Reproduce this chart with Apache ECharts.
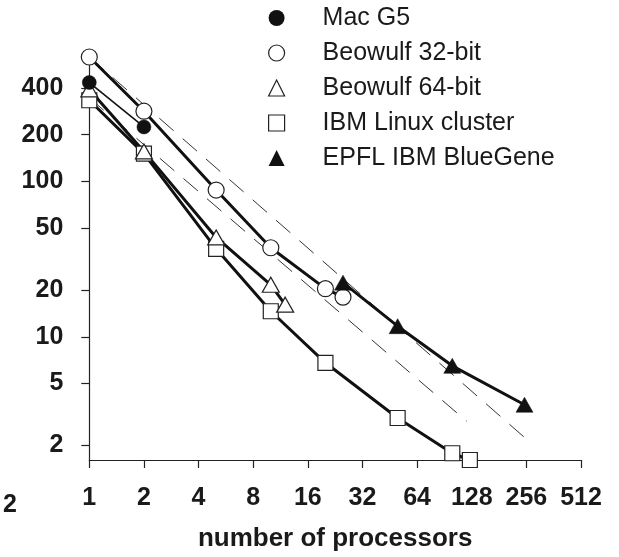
<!DOCTYPE html>
<html>
<head>
<meta charset="utf-8">
<script src="https://cdn.jsdelivr.net/npm/echarts@6/dist/echarts.min.js"></script>
<style>
  html, body { margin: 0; padding: 0; background: #fff; }
  #chart { width: 619px; height: 557px; }
</style>
</head>
<body>
<div id="chart"></div>
<script>
// ---- data ----
const seriesNames = ['Mac G5', 'Beowulf 32-bit', 'Beowulf 64-bit', 'IBM Linux cluster', 'EPFL IBM BlueGene'];

const macProcs = [1, 2];
const macTimes = [433, 224];

const b32Procs = [1, 2, 5, 10, 20, 25];
const b32Times = [632, 283, 88, 37.4, 20.4, 18.0];

const b64Procs = [1, 2, 5, 10, 12];
const b64Times = [391, 156, 43.6, 21.6, 16.1];

const ibmProcs = [1, 2, 5, 10, 20, 50, 100, 125];
const ibmTimes = [333, 151, 36.8, 14.6, 6.8, 3.0, 1.78, 1.61];

const bgProcs = [25, 50, 100, 250];
const bgTimes = [22.3, 11.7, 6.5, 3.65];

// ideal-scaling reference lines (dashed)
const idealUpperProcs = [1, 250];
const idealUpperTimes = [632, 2.25];
const idealLowerProcs = [1, 120];
const idealLowerTimes = [345, 2.86];

const xTickLabels = [1, 2, 4, 8, 16, 32, 64, 128, 256, 512];
const yTickLabels = [2, 5, 10, 20, 50, 100, 200, 400];
const yRange = [1.61, 632];

// ---- helpers: log-log transform through value axes ----
const pts = (xs, ys) => xs.map((x, i) => [Math.log2(x), Math.log10(ys[i])]);

const FONT = "'Liberation Sans', Arial, Helvetica, sans-serif";
const INK = '#1a1a1a';

const openStyle = { color: '#ffffff', borderColor: '#222', borderWidth: 1.2 };
const fillStyle = { color: '#111', borderColor: '#111', borderWidth: 0.5 };

function lineSeries(name, data, symbol, size, itemStyle, width) {
  return {
    name, type: 'line', data, symbol, symbolSize: size,
    showAllSymbol: true, z: 5,
    lineStyle: { color: '#111', width: width },
    itemStyle: itemStyle,
    emphasis: { disabled: true },
    animation: false
  };
}

const chart = echarts.init(document.getElementById('chart'), null, { renderer: 'canvas' });

chart.setOption({
  backgroundColor: '#fff',
  animation: false,
  textStyle: { fontFamily: FONT },
  grid: { left: 89.3, right: 38, top: 57, bottom: 91, containLabel: false },
  legend: {
    orient: 'vertical',
    left: 268, top: 5.5,
    padding: 0,
    itemGap: 10,
    itemWidth: 16, itemHeight: 16,
    symbolKeepAspect: true,
    selectedMode: false,
    textStyle: { fontFamily: FONT, fontSize: 25, color: INK, lineHeight: 25, padding: [0, 0, 0, 33] },
    data: [
      { name: seriesNames[0], icon: 'circle', itemStyle: { color: '#111', borderColor: '#111', borderWidth: 0 } },
      { name: seriesNames[1], icon: 'circle', itemStyle: { color: '#fff', borderColor: '#222', borderWidth: 1.2 } },
      { name: seriesNames[2], icon: 'triangle', itemStyle: { color: '#fff', borderColor: '#222', borderWidth: 1.2 } },
      { name: seriesNames[3], icon: 'rect', itemStyle: { color: '#fff', borderColor: '#222', borderWidth: 1.2 } },
      { name: seriesNames[4], icon: 'triangle', itemStyle: { color: '#111', borderColor: '#111', borderWidth: 0 } }
    ]
  },
  xAxis: {
    type: 'value',
    min: Math.log2(xTickLabels[0]),
    max: Math.log2(xTickLabels[xTickLabels.length - 1]),
    interval: 1,
    name: 'number of processors',
    nameLocation: 'middle',
    nameGap: 66,
    nameTextStyle: { fontFamily: FONT, fontSize: 26, fontWeight: 'bold', color: INK },
    axisLine: { show: true, onZero: false, lineStyle: { color: '#222', width: 1.2 } },
    axisTick: { show: true, inside: false, length: 8, lineStyle: { color: '#222', width: 1.2 } },
    axisLabel: {
      margin: 26, fontSize: 25, fontWeight: 'bold', color: INK, fontFamily: FONT,
      formatter: v => String(Math.round(Math.pow(2, v)))
    },
    splitLine: { show: false }
  },
  yAxis: {
    type: 'value',
    min: Math.log10(yRange[0]),
    max: Math.log10(yRange[1]),
    axisLine: { show: true, onZero: false, lineStyle: { color: '#222', width: 1.2 } },
    axisTick: {
      show: true, inside: false, length: 8, lineStyle: { color: '#222', width: 1.2 },
      customValues: yTickLabels.map(v => Math.log10(v))
    },
    axisLabel: {
      margin: 26, fontSize: 25, fontWeight: 'bold', color: INK, fontFamily: FONT,
      customValues: yTickLabels.map(v => Math.log10(v)),
      formatter: v => String(Math.round(Math.pow(10, v)))
    },
    splitLine: { show: false }
  },
  graphic: [
    {
      type: 'text', left: 3, top: 493,
      style: { text: '2', font: 'bold 25px ' + FONT, fill: INK }
    }
  ],
  series: [
    {
      name: 'ideal-upper', type: 'line', data: pts(idealUpperProcs, idealUpperTimes),
      symbol: 'none', z: 1, silent: true,
      lineStyle: { color: '#333', width: 1, type: [19, 12] }
    },
    {
      name: 'ideal-lower', type: 'line', data: pts(idealLowerProcs, idealLowerTimes),
      symbol: 'none', z: 1, silent: true,
      lineStyle: { color: '#333', width: 1, type: [19, 12] }
    },
    lineSeries(seriesNames[3], pts(ibmProcs, ibmTimes), 'rect', 15, openStyle, 3),
    lineSeries(seriesNames[2], pts(b64Procs, b64Times), 'triangle', [17, 15], openStyle, 3),
    lineSeries(seriesNames[0], pts(macProcs, macTimes), 'circle', 14, fillStyle, 1.6),
    lineSeries(seriesNames[1], pts(b32Procs, b32Times), 'circle', 16, openStyle, 3),
    lineSeries(seriesNames[4], pts(bgProcs, bgTimes), 'triangle', [17, 15], fillStyle, 3)
  ]
});
</script>
</body>
</html>
